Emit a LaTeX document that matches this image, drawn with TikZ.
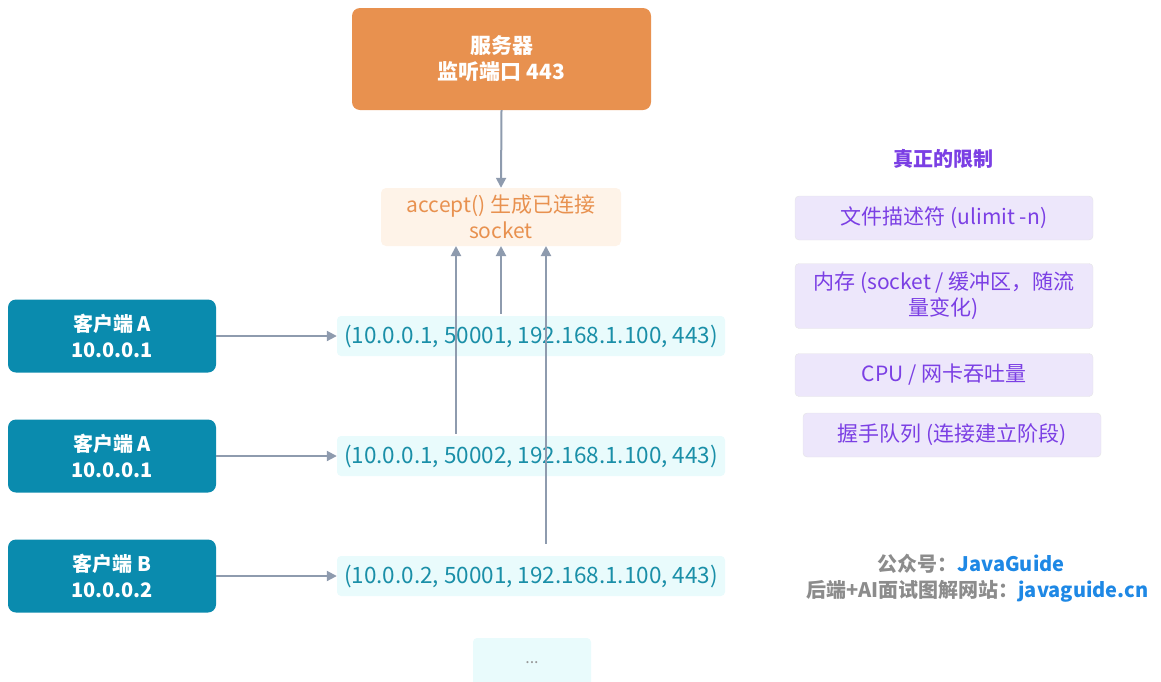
\documentclass[tikz,border=0pt]{standalone}
\usepackage{fontspec}
\setmainfont{Noto Sans CJK SC}
\usetikzlibrary{arrows.meta}
\definecolor{org}{HTML}{E8914F}
\definecolor{orgl}{HTML}{FEF3E8}
\definecolor{teal}{HTML}{0A8BAE}
\definecolor{cyl}{HTML}{E9FBFC}
\definecolor{cyt}{HTML}{1A8FA8}
\definecolor{lav}{HTML}{EDE7FB}
\definecolor{pur}{HTML}{7B3FE4}
\definecolor{arr}{HTML}{8E9BAE}
\definecolor{wblue}{HTML}{1E88E5}
\begin{document}
\begin{tikzpicture}[x=1pt,y=-1pt,
 box/.style={rounded corners=8pt,align=center,inner sep=0pt,font=\fontsize{21}{26}\selectfont},
 srv/.style={box,fill=org,text=white,font=\fontsize{21}{26}\selectfont\bfseries},
 cli/.style={box,fill=teal,text=white,font=\fontsize{20}{26}\selectfont\bfseries},
 tup/.style={box,rounded corners=4pt,fill=cyl,text=cyt,font=\fontsize{22.5}{26}\selectfont},
 lim/.style={box,rounded corners=4pt,fill=lav,text=pur,draw=black!10},
 ar/.style={draw=arr,line width=2pt,-{Triangle[length=10pt,width=10pt]}}]
\useasboundingbox (0,0) rectangle (1161,681);
\node[srv,minimum width=299,minimum height=102] (srv) at (501.5,59) {服务器\\监听端口 443};
\node[box,rounded corners=5pt,fill=orgl,text=org,minimum width=240,minimum height=58] (acc) at (501,217) {accept() 生成已连接\\socket};
\draw[ar] (srv.south) -- (acc.north);
\foreach \n/\y/\t in {c1/336/客户端 A\\10.0.0.1,c2/456/客户端 A\\10.0.0.1,c3/576/客户端 B\\10.0.0.2}
 \node[cli,minimum width=208,minimum height=73] (\n) at (112,\y) {\t};
\node[tup,minimum width=388,minimum height=40] (t1) at (531,336) {(10.0.0.1, 50001, 192.168.1.100, 443)};
\node[tup,minimum width=388,minimum height=40] (t2) at (531,456) {(10.0.0.1, 50002, 192.168.1.100, 443)};
\node[tup,minimum width=388,minimum height=40] (t3) at (531,576) {(10.0.0.2, 50001, 192.168.1.100, 443)};
\node[tup,minimum width=118,minimum height=50,text=black!40,font=\fontsize{16}{20}\selectfont] (dots) at (532,663) {...};
\draw[ar] (c1.east) -- (t1.west);
\draw[ar] (c2.east) -- (t2.west);
\draw[ar] (c3.east) -- (t3.west);
\coordinate (a1) at (501,246); \coordinate (a2) at (456,246); \coordinate (a3) at (546,246);
\draw[ar] (t1.north -| a1) ++(0,-2) -- (a1);
\draw[ar] (t2.north -| a2) ++(0,-2) -- (a2);
\draw[ar] (t3.north -| a3) ++(0,-12) -- (a3);
\node[text=pur,font=\fontsize{20}{24}\selectfont\bfseries] (lt) at (943,159) {真正的限制};
\node[lim,minimum width=298,minimum height=44] (l1) at (944,218) {文件描述符 (ulimit -n)};
\node[lim,minimum width=298,minimum height=65] (l2) at (944,296) {内存 (socket / 缓冲区，随流\\量变化)};
\node[lim,minimum width=298,minimum height=43] (l3) at (944,375) {CPU / 网卡吞吐量};
\node[lim,minimum width=298,minimum height=44] (l4) at (952,435) {握手队列 (连接建立阶段)};
\node[anchor=east,font=\fontsize{20}{24}\selectfont\bfseries] (w1) at (1068,564) {\textcolor{black!45}{公众号：}\textcolor{wblue}{JavaGuide}};
\node[anchor=east,font=\fontsize{20}{24}\selectfont\bfseries] (w2) at (1152,591) {\textcolor{black!45}{后端+AI面试图解网站：}\textcolor{wblue}{javaguide.cn}};
\end{tikzpicture}
\end{document}
